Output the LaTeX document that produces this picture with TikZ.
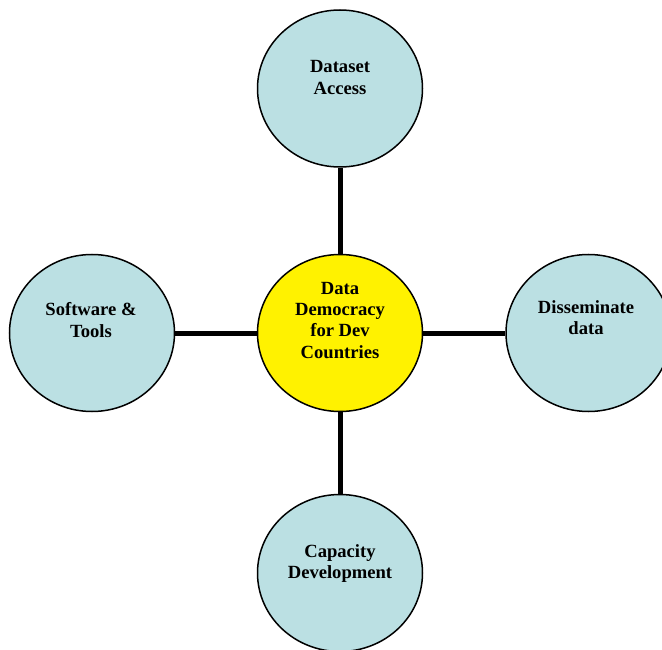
\documentclass[tikz,border=0pt]{standalone}
\usepackage{fontspec}
\setmainfont{Liberation Serif}
\usetikzlibrary{shapes.geometric}
\definecolor{bubblefill}{RGB}{187,224,227}

\begin{document}
\begin{tikzpicture}[x=1pt,y=-1pt,bubble/.style={ellipse,draw=black,line width=1.5pt,fill=bubblefill,minimum width=165pt,minimum height=157pt,inner sep=0pt},hub/.style={bubble,fill=yellow},caption/.style={anchor=north,inner sep=0pt,align=center,font=\bfseries\fontsize{18.6}{21.3}\selectfont},link/.style={line width=5pt}]
    \useasboundingbox (0,0) rectangle (662,650);
    \node[hub] (core) at (340,333) {};
    \node[bubble] (access) at (340,88.5) {};
    \node[bubble] (tools) at (92,333) {};
    \node[bubble] (spread) at (588.5,333) {};
    \node[bubble] (skills) at (340,573) {};
    \draw[link] (core) -- (access);
    \draw[link] (core) -- (tools);
    \draw[link] (core) -- (spread);
    \draw[link] (core) -- (skills);
    \node[caption] (core-text) at (340,282) {Data\\Democracy\\for Dev\\Countries};
    \node[caption] (access-text) at (340,60.5) {Dataset\\Access};
    \node[caption] (tools-text) at (91,302.5) {Software \&\\Tools};
    \node[caption] (spread-text) at (586,300.5) {Disseminate\\data};
    \node[caption] (skills-text) at (340,544.5) {Capacity\\Development};
\end{tikzpicture}
\end{document}
